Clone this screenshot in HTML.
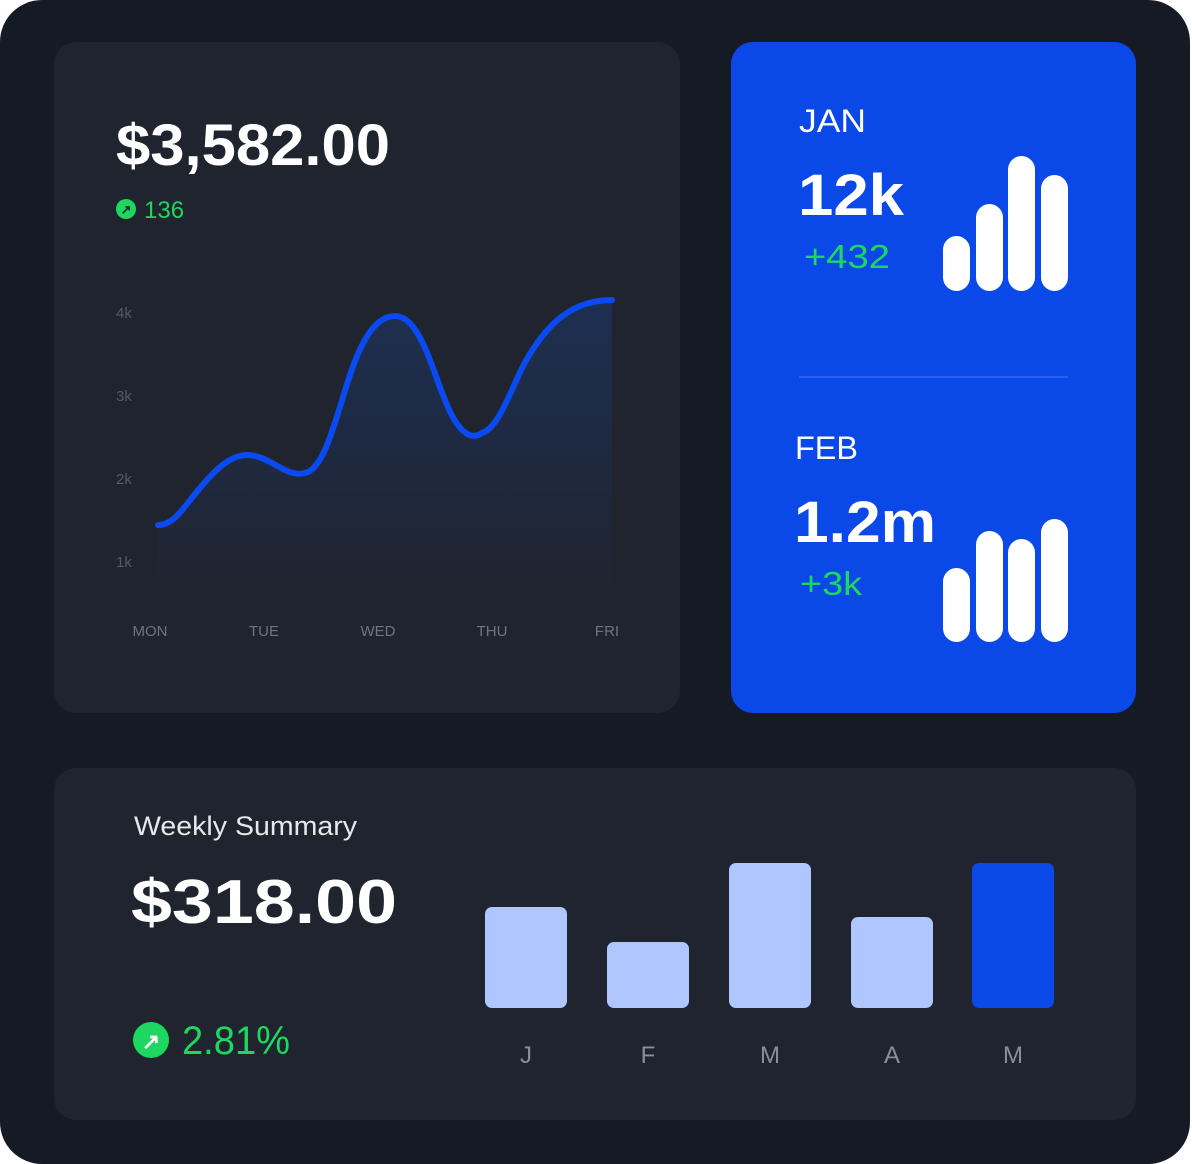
<!DOCTYPE html>
<html><head><meta charset="utf-8"><style>
html,body{margin:0;padding:0;background:#fff;width:1192px;height:1164px;overflow:hidden}
svg{display:block}
text{font-family:"Liberation Sans",sans-serif}
</style></head><body>
<svg width="1192" height="1164" viewBox="0 0 1192 1164">
<defs>
<linearGradient id="g" x1="0" y1="0" x2="0" y2="1">
<stop offset="0" stop-color="#1d2f52"/><stop offset="1" stop-color="#20242f"/>
</linearGradient>
</defs>
<rect x="0" y="0" width="1190" height="1164" rx="42" fill="#151a24"/>
<rect x="54" y="42" width="626" height="671" rx="22" fill="#1f242e"/>
<rect x="731" y="42" width="405" height="671" rx="22" fill="#0a48e8"/>
<rect x="54" y="768" width="1082" height="352" rx="22" fill="#1f242e"/>

<text x="116" y="165" font-size="58" font-weight="bold" fill="#fff" textLength="274" lengthAdjust="spacingAndGlyphs">$3,582.00</text>
<circle cx="126" cy="209" r="10" fill="#1ed760"/>
<text x="126" y="214" font-size="13" font-weight="bold" fill="#1f242e" text-anchor="middle">↗</text>
<text x="144" y="218" font-size="24" fill="#1ed760">136</text>

<g font-size="15" fill="#555a64">
<text x="116" y="318">4k</text><text x="116" y="401">3k</text><text x="116" y="484">2k</text><text x="116" y="567">1k</text>
</g>
<g font-size="15" fill="#6f7480" text-anchor="middle">
<text x="150" y="636">MON</text><text x="264" y="636">TUE</text><text x="378" y="636">WED</text><text x="492" y="636">THU</text><text x="607" y="636">FRI</text>
</g>
<path d="M158 525 C175 525 185 505 200 488 C215 470 230 455 247 455 C270 455 285 478 305 473 C325 468 335 420 350 375 C365 330 380 316 395 316 C420 316 432 370 447 405 C462 440 475 438 482 433 C497 428 507 400 522 368 C547 320 575 300 612 300 L612 600 L158 600 Z" fill="url(#g)"/>
<path d="M158 525 C175 525 185 505 200 488 C215 470 230 455 247 455 C270 455 285 478 305 473 C325 468 335 420 350 375 C365 330 380 316 395 316 C420 316 432 370 447 405 C462 440 475 438 482 433 C497 428 507 400 522 368 C547 320 575 300 612 300" fill="none" stroke="#0a4af0" stroke-width="6" stroke-linecap="round"/>

<text x="799" y="132" font-size="32" fill="#fff" textLength="67" lengthAdjust="spacingAndGlyphs">JAN</text>
<text x="798" y="215" font-size="58" font-weight="bold" fill="#fff" textLength="106" lengthAdjust="spacingAndGlyphs">12k</text>
<text x="804" y="268" font-size="33" fill="#1ed760" textLength="86" lengthAdjust="spacingAndGlyphs">+432</text>
<g fill="#fff">
<rect x="943" y="236" width="27" height="55" rx="13.5"/>
<rect x="976" y="204" width="27" height="87" rx="13.5"/>
<rect x="1008" y="156" width="27" height="135" rx="13.5"/>
<rect x="1041" y="175" width="27" height="116" rx="13.5"/>
</g>
<rect x="799" y="376" width="269" height="2" fill="#2a5ef0"/>
<text x="795" y="459" font-size="32" fill="#fff" textLength="63" lengthAdjust="spacingAndGlyphs">FEB</text>
<text x="794" y="542" font-size="58" font-weight="bold" fill="#fff" textLength="142" lengthAdjust="spacingAndGlyphs">1.2m</text>
<text x="800" y="595" font-size="33" fill="#1ed760" textLength="62" lengthAdjust="spacingAndGlyphs">+3k</text>
<g fill="#fff">
<rect x="943" y="568" width="27" height="74" rx="13.5"/>
<rect x="976" y="531" width="27" height="111" rx="13.5"/>
<rect x="1008" y="539" width="27" height="103" rx="13.5"/>
<rect x="1041" y="519" width="27" height="123" rx="13.5"/>
</g>

<text x="134" y="835" font-size="27" fill="#e6e8ec" textLength="223" lengthAdjust="spacingAndGlyphs">Weekly Summary</text>
<text x="131" y="923" font-size="62" font-weight="bold" fill="#fff" textLength="266" lengthAdjust="spacingAndGlyphs">$318.00</text>
<circle cx="151" cy="1040" r="18" fill="#1ed760"/>
<text x="151" y="1049" font-size="22" font-weight="bold" fill="#fff" text-anchor="middle">↗</text>
<text x="182" y="1054" font-size="40" fill="#1ed760" textLength="108" lengthAdjust="spacingAndGlyphs">2.81%</text>

<g fill="#afc6ff">
<rect x="485" y="907" width="82" height="101" rx="7"/>
<rect x="607" y="942" width="82" height="66" rx="7"/>
<rect x="729" y="863" width="82" height="145" rx="7"/>
<rect x="851" y="917" width="82" height="91" rx="7"/>
</g>
<rect x="972" y="863" width="82" height="145" rx="7" fill="#0a48e8"/>
<g font-size="24" fill="#8a8e98" text-anchor="middle">
<text x="526" y="1063">J</text><text x="648" y="1063">F</text><text x="770" y="1063">M</text><text x="892" y="1063">A</text><text x="1013" y="1063">M</text>
</g>
</svg>
</body></html>
